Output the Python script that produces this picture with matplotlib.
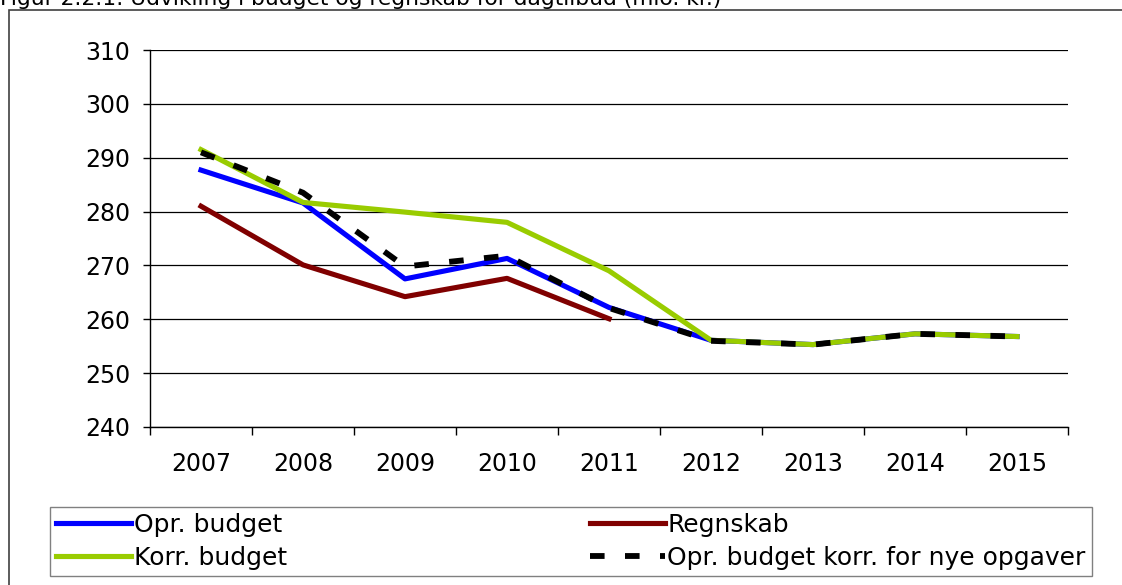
import matplotlib.pyplot as plt
from matplotlib.patches import Rectangle

years = ["2007", "2008", "2009", "2010", "2011", "2012", "2013", "2014", "2015"]
opr_budget = [287.7, 281.6, 267.5, 271.3, 262.2, 256.1, 255.3, 257.3, 256.8]
regnskab = [281.0, 270.1, 264.2, 267.6, 260.1]
korr_budget = [291.5, 281.7, 279.9, 278.0, 269.0, 256.1, 255.3, 257.3, 256.8]
opr_korr = [291.0, 283.5, 269.8, 271.8, 262.1, 256.0, 255.3, 257.3, 256.8]

W, H = 1122, 585
plt.rcParams['font.family'] = ['DejaVu Sans']
fig = plt.figure(figsize=(W / 100, H / 100), dpi=100)

# outer frame and title (clipped at the top like the source)
fig.patches.append(Rectangle((9 / W, -0.1), 1.2, (H - 10) / H + 0.1,
                             transform=fig.transFigure, fill=False,
                             edgecolor="#404040", linewidth=1.2))
fig.text(0 / W, 1 - 5 / H,
         "Figur 2.2.1: Udvikling i budget og regnskab for dagtilbud (mio. kr.)",
         fontsize=15.7, va="baseline", ha="left")

ax = fig.add_axes([150 / W, (H - 427) / H, (1068 - 150) / W, (427 - 50) / H])
x = range(len(years))
ax.plot(x, opr_budget, color="#0000FF", lw=3.7, label="Opr. budget", zorder=3)
ax.plot(x[:len(regnskab)], regnskab, color="#800000", lw=3.7, label="Regnskab", zorder=3)
ax.plot(x, korr_budget, color="#99CC00", lw=3.7, label="Korr. budget", zorder=3)
ax.plot(x, opr_korr, color="black", lw=4.2, dashes=(2.5, 3.5),
        label="Opr. budget korr. for nye opgaver", zorder=4)

ax.set_ylim(240, 310)
ax.set_yticks(range(240, 311, 10))
ax.set_xlim(-0.5, len(years) - 0.5)
ax.set_xticks(list(x))
ax.set_xticklabels(years)
ax.set_xticks([i - 0.5 for i in range(len(years) + 1)], minor=True)
ax.tick_params(axis="x", which="major", length=0, pad=18, labelsize=17)
ax.tick_params(axis="x", which="minor", length=5.8, direction="out", width=1)
ax.tick_params(axis="y", length=5, width=1, pad=9, labelsize=17)
ax.grid(axis="y", color="black", lw=0.9)
ax.set_axisbelow(True)
for s in ["top", "right"]:
    ax.spines[s].set_visible(False)
for s in ["left", "bottom"]:
    ax.spines[s].set_linewidth(1)

h, l = ax.get_legend_handles_labels()
order = [0, 2, 1, 3]
leg = fig.legend([h[i] for i in order], [l[i] for i in order], ncol=2,
                 loc="lower left", mode="expand",
                 bbox_to_anchor=(50 / W, (H - 576) / H, 1042 / W, 73 / H),
                 frameon=True, fancybox=False, handlelength=3.0,
                 handletextpad=0.1, borderaxespad=0, borderpad=0.25,
                 labelspacing=0.35, fontsize=18)
leg.get_frame().set_edgecolor("#606060")
leg.get_frame().set_linewidth(1)

fig.savefig("out.png", dpi=100)
